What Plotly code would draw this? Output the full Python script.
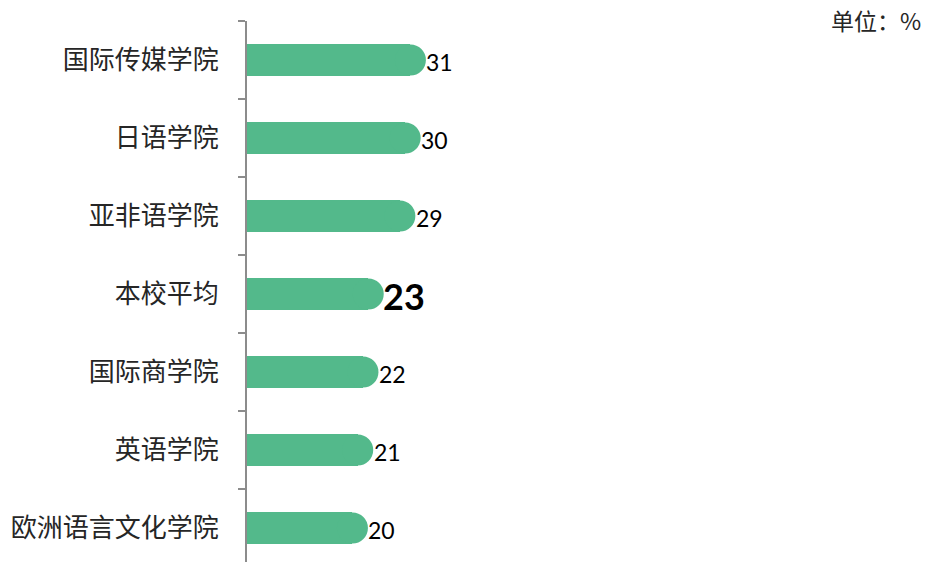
import plotly.graph_objects as go

# Share of students by school (unit: %)
schools = ["国际传媒学院", "日语学院", "亚非语学院", "本校平均", "国际商学院", "英语学院", "欧洲语言文化学院"]
values = [31, 30, 29, 23, 22, 21, 20]
highlight = "本校平均"

bar_color = "#53b98b"
axis_gray = "#8c8c8c"

fig = go.Figure()

# Bar body
fig.add_trace(go.Bar(
    x=values, y=schools, orientation="h",
    width=0.4,
    marker=dict(color=bar_color, line=dict(width=0)),
    hoverinfo="skip",
))

# Round cap at the end of each bar
fig.add_trace(go.Scatter(
    x=values, y=schools,
    mode="markers",
    marker=dict(size=31, color=bar_color, line=dict(width=0)),
    hoverinfo="skip",
    cliponaxis=False,
))

# Value labels just past the cap
annotations = []
for s, v in zip(schools, values):
    big = s == highlight
    annotations.append(dict(
        x=v, y=s, xref="x", yref="y",
        text=f"<b>{v}</b>" if big else str(v),
        xanchor="left", yanchor="middle",
        xshift=13 if big else 14, yshift=-2,
        showarrow=False,
        font=dict(family="Lato, sans-serif", size=36 if big else 23, color="#000000"),
    ))

annotations.append(dict(
    text="单位：%", xref="paper", yref="paper",
    x=1, y=1, xanchor="right", yanchor="middle",
    xshift=-4, yshift=1,
    showarrow=False,
    font=dict(family="Noto Sans CJK SC", size=23, color="#262626"),
))

fig.update_layout(
    width=927, height=562,
    margin=dict(l=247, r=0, t=21, b=0),
    paper_bgcolor="white", plot_bgcolor="white",
    showlegend=False,
    bargap=0,
    xaxis=dict(range=[0, 129], visible=False, fixedrange=True),
    yaxis=dict(
        type="category",
        range=[6.436, -0.5],
        showline=True, linecolor=axis_gray, linewidth=2,
        ticks="outside", tickson="boundaries", ticklen=7, tickwidth=2, tickcolor=axis_gray,
        ticklabelstandoff=21,
        tickfont=dict(family="Noto Sans CJK SC", size=26, color="#262626"),
        showgrid=False, zeroline=False, fixedrange=True,
    ),
    annotations=annotations,
)

fig.write_html("out.html")
